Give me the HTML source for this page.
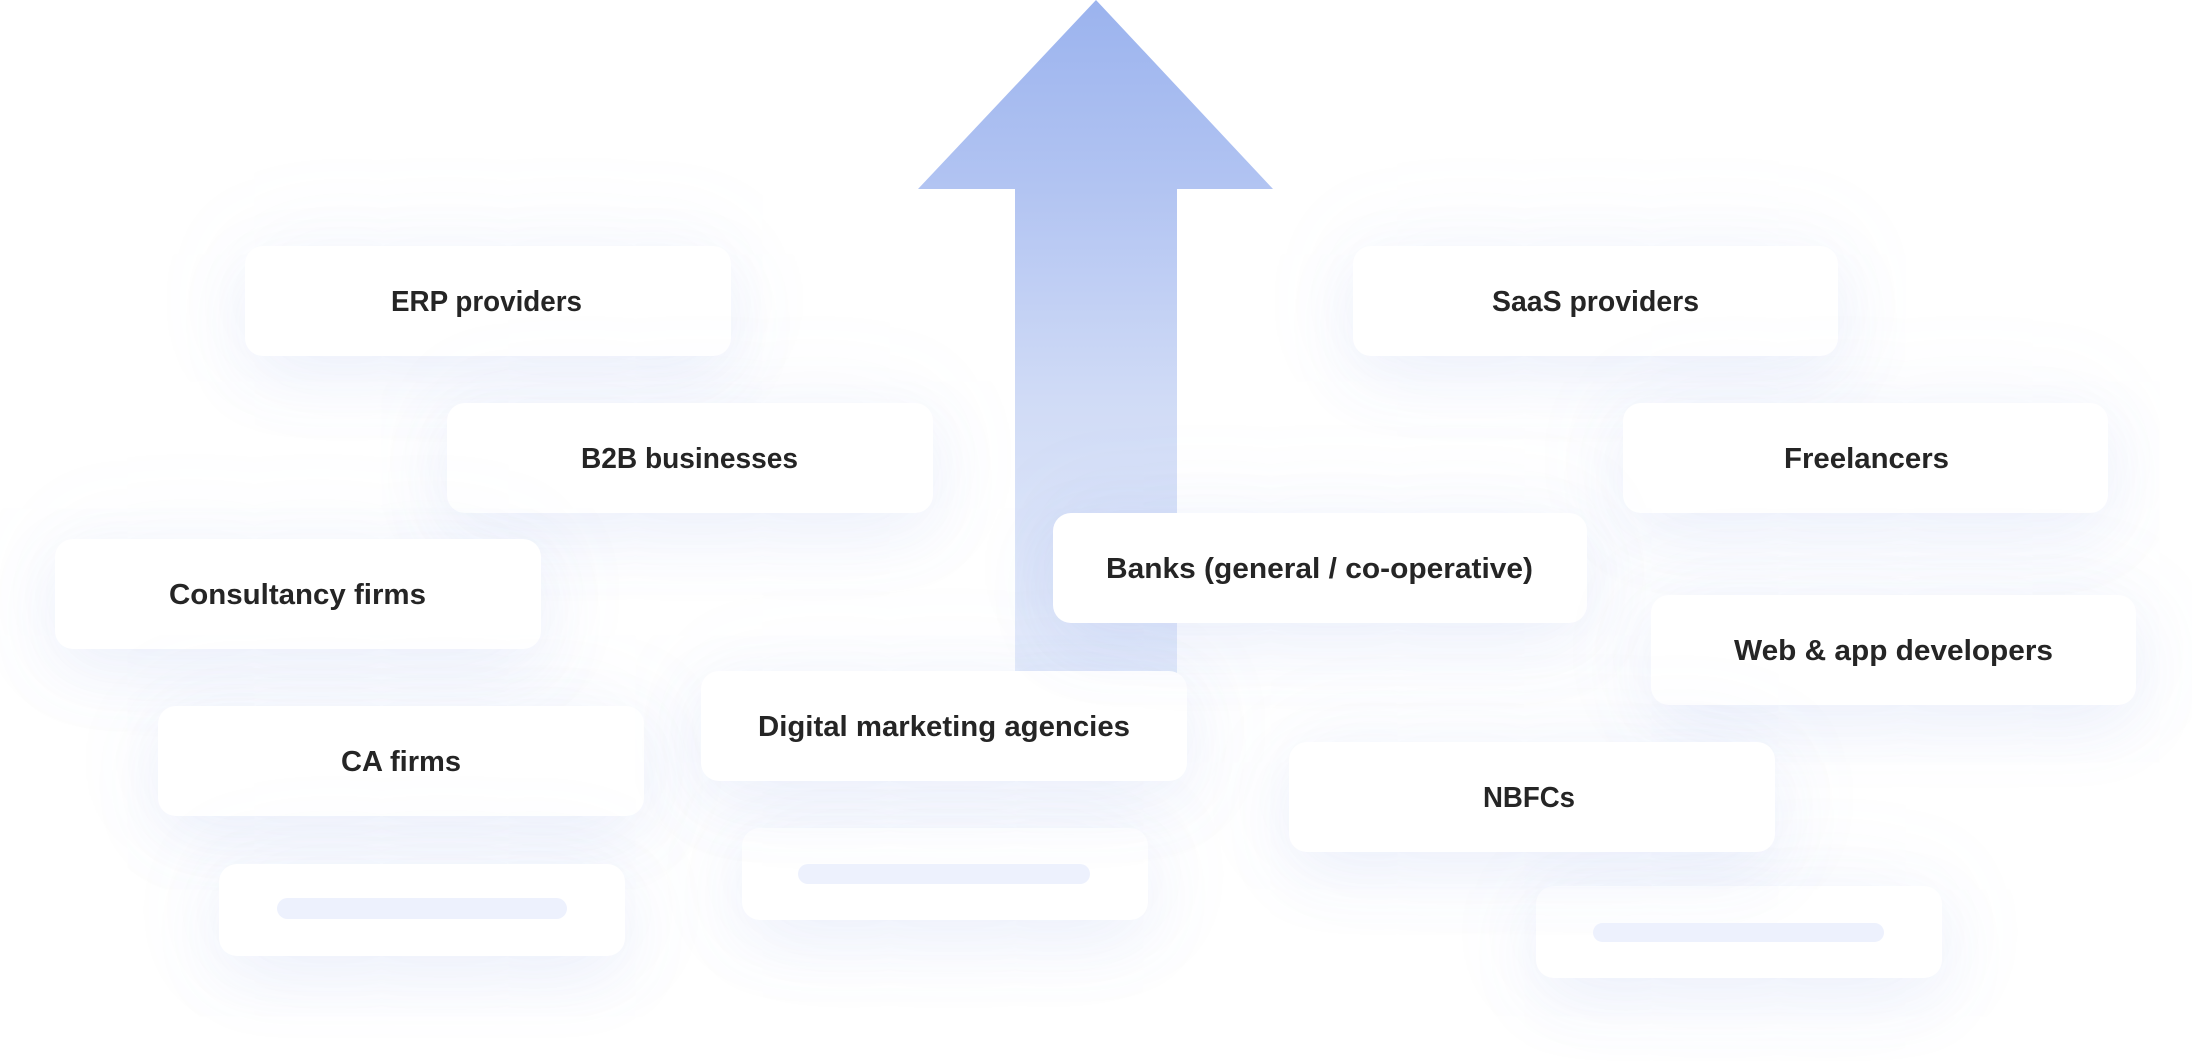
<!DOCTYPE html>
<html>
<head>
<meta charset="utf-8">
<style>
  html,body{margin:0;padding:0;background:#fff;}
  body{width:2192px;height:1064px;position:relative;overflow:hidden;}
  .box{position:absolute;background:#fff;border-radius:18px;
    box-shadow:0 22px 70px rgba(110,140,230,0.10),0 0 110px rgba(140,165,235,0.08);}
  .bar{position:absolute;background:#edf1fd;border-radius:12px;}
  svg{position:absolute;left:0;top:0;}
</style>
</head>
<body>
<svg width="2192" height="1064" style="z-index:0">
  <defs>
    <linearGradient id="ag" x1="0" y1="0" x2="0" y2="700" gradientUnits="userSpaceOnUse">
      <stop offset="0" stop-color="#9bb3ee"/>
      <stop offset="0.27" stop-color="#b2c4f2"/>
      <stop offset="0.57" stop-color="#d0dbf6"/>
      <stop offset="1" stop-color="#e8eefb"/>
    </linearGradient>
  </defs>
  <polygon points="1096,0 1273,189 1177,189 1177,700 1015,700 1015,189 918,189" fill="url(#ag)"/>
</svg>

<div class="box" style="left:245px;top:246px;width:486px;height:110px"></div>
<div class="box" style="left:447px;top:403px;width:486px;height:110px"></div>
<div class="box" style="left:1353px;top:246px;width:485px;height:110px"></div>
<div class="box" style="left:1623px;top:403px;width:485px;height:110px"></div>
<div class="box" style="left:55px;top:539px;width:486px;height:110px"></div>
<div class="box" style="left:158px;top:706px;width:486px;height:110px"></div>
<div class="box" style="left:219px;top:864px;width:406px;height:92px"></div>
<div class="box" style="left:742px;top:828px;width:406px;height:92px"></div>
<div class="box" style="left:1536px;top:886px;width:406px;height:92px"></div>
<div class="box" style="left:701px;top:671px;width:486px;height:110px"></div>
<div class="box" style="left:1053px;top:513px;width:534px;height:110px"></div>
<div class="box" style="left:1651px;top:595px;width:485px;height:110px"></div>
<div class="box" style="left:1289px;top:742px;width:486px;height:110px"></div>

<div class="bar" style="left:277px;top:898px;width:290px;height:21px"></div>
<div class="bar" style="left:798px;top:864px;width:292px;height:20px"></div>
<div class="bar" style="left:1593px;top:923px;width:291px;height:19px"></div>

<svg width="2192" height="1064" style="z-index:5">
  <g font-family="Liberation Sans, Arial, sans-serif" font-weight="700" font-size="29" fill="#252525" text-anchor="middle">
    <text x="486.5" y="311" textLength="191" lengthAdjust="spacingAndGlyphs">ERP providers</text>
    <text x="689.5" y="468" textLength="217" lengthAdjust="spacingAndGlyphs">B2B businesses</text>
    <text x="1595.5" y="311" textLength="207" lengthAdjust="spacingAndGlyphs">SaaS providers</text>
    <text x="1866.5" y="468" textLength="165" lengthAdjust="spacingAndGlyphs">Freelancers</text>
    <text x="297.5" y="604" textLength="257" lengthAdjust="spacingAndGlyphs">Consultancy firms</text>
    <text x="401" y="771" textLength="120" lengthAdjust="spacingAndGlyphs">CA firms</text>
    <text x="944" y="736" textLength="372" lengthAdjust="spacingAndGlyphs">Digital marketing agencies</text>
    <text x="1319.5" y="578" textLength="427" lengthAdjust="spacingAndGlyphs">Banks (general / co-operative)</text>
    <text x="1893.5" y="660" textLength="319" lengthAdjust="spacingAndGlyphs">Web &amp; app developers</text>
    <text x="1529" y="807" textLength="92" lengthAdjust="spacingAndGlyphs">NBFCs</text>
  </g>
</svg>
</body>
</html>
